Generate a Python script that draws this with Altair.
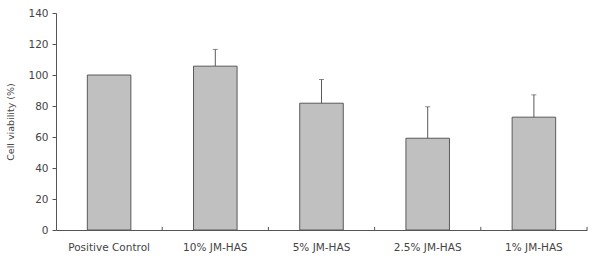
import altair as alt
import pandas as pd

categories = ["Positive Control", "10% JM-HAS", "5% JM-HAS", "2.5% JM-HAS", "1% JM-HAS"]
values = [100, 105.7, 81.8, 59.2, 72.8]
errors = [0, 10.8, 15.3, 20.3, 14.4]

df = pd.DataFrame({"cat": categories, "val": values, "err": errors})
df["top"] = df["val"] + df["err"]
df["y0"] = 0
df["y1"] = 2
err_df = df[df["err"] > 0]

FONT = "DejaVu Sans"
xaxis = alt.Axis(labelAngle=0, labelFontSize=10.5, labelColor="#444", labelFont=FONT,
                 domainColor="#555", ticks=False, labelPadding=12)
yaxis = alt.Axis(values=[0, 20, 40, 60, 80, 100, 120, 140], grid=False, labelOverlap=False,
                 labelFontSize=10.5, labelColor="#444", labelFont=FONT,
                 titleFontSize=9.5, titleFont=FONT, titleColor="#444", titleFontWeight="normal",
                 domainColor="#555", tickColor="#555", tickSize=4, labelPadding=4, titlePadding=12)
xscale = alt.Scale(paddingInner=0.59, paddingOuter=0.295)
yscale = alt.Scale(domain=[0, 140])


def X():
    return alt.X("cat:N", sort=categories, title=None, scale=xscale, axis=xaxis)


def Y(f):
    return alt.Y(f, scale=yscale, title="Cell viability (%)", axis=yaxis)


bars = alt.Chart(df).mark_bar(color="#c0c0c0", stroke="#5a5a5a", strokeWidth=1).encode(
    x=X(), y=Y("val:Q"))

rules = alt.Chart(err_df).mark_rule(color="#5a5a5a", strokeWidth=1).encode(
    x=X(), y=Y("val:Q"), y2="top:Q")

caps = alt.Chart(err_df).mark_tick(color="#5a5a5a", thickness=1, size=5).encode(
    x=X(), y=Y("top:Q"))

bticks = alt.Chart(df).mark_rule(color="#555", strokeWidth=1, xOffset=53.1).encode(
    x=X(), y=Y("y0:Q"), y2="y1:Q")

chart = alt.layer(bars, rules, caps, bticks).properties(
    width=531, height=217,
    background="white",
    autosize=alt.AutoSizeParams(type="none"),
    padding={"left": 56, "top": 13, "right": 6, "bottom": 31},
).configure_view(stroke=None)

chart.save("out.html", embed_options={"renderer": "svg", "actions": False})
